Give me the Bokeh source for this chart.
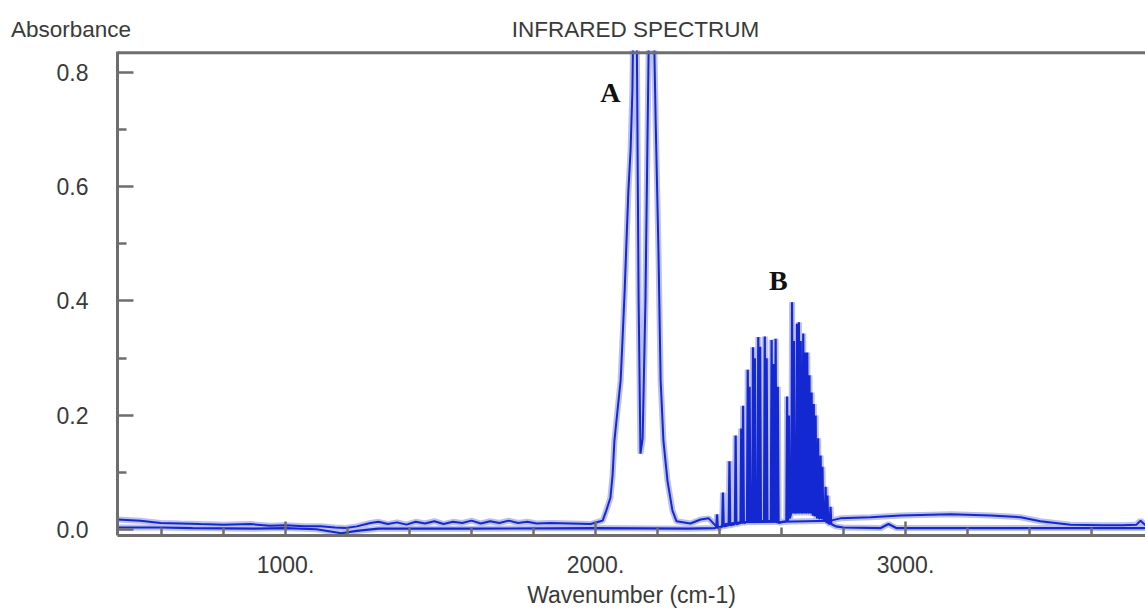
from bokeh.plotting import figure
from bokeh.models import Range1d, FixedTicker, LinearAxis, Label, NumeralTickFormatter, Span
from bokeh.embed import file_html
from bokeh.resources import INLINE

# ---------------- data ----------------
# Spectrum 1 (band A, CO-like doublet) : wavenumber (cm-1), absorbance
spec_a_wn = [458, 532, 597, 660, 726, 800, 887, 950, 1000, 1060, 1113, 1160, 1194, 1230,
             1274, 1300, 1330, 1360, 1390, 1420, 1450, 1480, 1510, 1540, 1570, 1600,
             1630, 1660, 1690, 1720, 1750, 1780, 1810, 1855, 1920, 1984, 2016,
             2023, 2035, 2048, 2055, 2061, 2071, 2081, 2087, 2094, 2100, 2106, 2113,
             2119, 2123, 2132, 2139, 2145, 2152, 2161, 2168, 2174, 2186, 2194, 2203,
             2210, 2219, 2232, 2248, 2261, 2306, 2339, 2365, 2384, 2397, 2420, 2468,
             2600, 2758, 2790, 2887, 2984, 3145, 3274, 3371, 3435, 3532, 3629, 3700,
             3745, 3758, 3774]
spec_a_abs = [0.018, 0.016, 0.012, 0.011, 0.010, 0.009, 0.010, 0.007, 0.008, 0.006, 0.006,
              0.004, 0.003, 0.006, 0.012, 0.014, 0.010, 0.013, 0.009, 0.014, 0.011, 0.015,
              0.010, 0.014, 0.012, 0.016, 0.011, 0.015, 0.012, 0.016, 0.012, 0.014, 0.011,
              0.012, 0.011, 0.010, 0.015,
              0.016, 0.034, 0.056, 0.095, 0.156, 0.209, 0.261, 0.331, 0.418, 0.506, 0.593,
              0.663, 0.768, 0.95, 0.95, 0.401, 0.133, 0.160, 0.400, 0.700, 0.95, 0.95,
              0.715, 0.488, 0.261, 0.156, 0.086, 0.034, 0.015, 0.011, 0.018, 0.020, 0.009,
              0.002, 0.010, 0.013, 0.014, 0.016, 0.020, 0.022, 0.025, 0.027, 0.025, 0.022,
              0.015, 0.009, 0.008, 0.008, 0.009, 0.016, 0.008]

# Spectrum 2 (band B, rotational lines) : baseline pieces and lines
spec_b_left_wn = [458, 600, 700, 900, 1000, 1100, 1180, 1230, 1300, 1600, 2000, 2300, 2385]
spec_b_left_abs = [0.004, 0.004, 0.003, 0.002, 0.003, 0.001, -0.006, -0.002, 0.002,
                   0.002, 0.003, 0.002, 0.003]
b_line_wn = [2392, 2411, 2432, 2452, 2470, 2476, 2491, 2497, 2508, 2514, 2525, 2531,
             2546, 2552, 2568, 2574, 2581, 2588, 2618, 2624, 2634, 2640, 2650, 2656,
             2662, 2670, 2676, 2683, 2690, 2697, 2704, 2710, 2718, 2726, 2732, 2742,
             2748, 2758]
b_line_abs = [0.027, 0.065, 0.120, 0.165, 0.177, 0.217, 0.280, 0.250, 0.319, 0.300,
              0.337, 0.320, 0.338, 0.300, 0.332, 0.290, 0.334, 0.250, 0.233, 0.200,
              0.398, 0.330, 0.360, 0.363, 0.330, 0.343, 0.310, 0.310, 0.270, 0.240,
              0.220, 0.200, 0.160, 0.130, 0.110, 0.075, 0.060, 0.040]
b_valley_abs = [0.004, 0.006, 0.008, 0.010, 0.012, 0.012, 0.014, 0.014, 0.015, 0.015,
                0.015, 0.015, 0.015, 0.015, 0.015, 0.015, 0.015, 0.012, 0.015, 0.020,
                0.030, 0.030, 0.030, 0.030, 0.030, 0.030, 0.030, 0.030, 0.030, 0.030,
                0.025, 0.025, 0.020, 0.020, 0.020, 0.015, 0.012, 0.010]
spec_b_right_wn = [2775, 2800, 2920, 2945, 2970, 3300, 3500, 3774]
spec_b_right_abs = [0.006, 0.004, 0.003, 0.010, 0.003, 0.003, 0.003, 0.003]

x_major = [1000, 2000, 3000]
x_major_labels = ["1000.", "2000.", "3000."]
x_minor = [600, 800, 1200, 1400, 1600, 1800, 2200, 2400, 2600, 2800, 3200, 3400, 3600]
y_major = [0.0, 0.2, 0.4, 0.6, 0.8]
y_minor = [0.1, 0.3, 0.5, 0.7]
y_top = 0.834

title_text = "INFRARED SPECTRUM"
y_title_text = "Absorbance"
x_title_text = "Wavenumber (cm-1)"

# build spectrum 2 polyline from baseline and line list
spec_b_wn = list(spec_b_left_wn)
spec_b_abs = list(spec_b_left_abs)
for c, h, v in zip(b_line_wn, b_line_abs, b_valley_abs):
    spec_b_wn += [c - 2.5, c, c + 2.5]
    spec_b_abs += [v, h, v]
spec_b_wn += spec_b_right_wn
spec_b_abs += spec_b_right_abs

# ---------------- figure ----------------
FONT = "Liberation Sans"
TXT = "#3a3a3a"
AX = "#6e6e6e"
FS = "23px"
X0, X1 = 458.1, 3774.0

p = figure(width=1145, height=613, output_backend="svg", toolbar_location=None,
           x_range=Range1d(X0, X1), y_range=Range1d(-0.00997, 0.8379),
           min_border_left=117, min_border_right=0, min_border_top=50, min_border_bottom=78)
p.outline_line_color = None
p.grid.visible = False
p.background_fill_color = "white"

halo = "#bcc0ea"
blue = "#1428d2"
p.line(spec_a_wn, spec_a_abs, line_color=halo, line_width=6)
p.line(spec_b_wn, spec_b_abs, line_color=halo, line_width=6)
p.line(spec_a_wn, spec_a_abs, line_color=blue, line_width=2)
p.line(spec_b_wn, spec_b_abs, line_color=blue, line_width=2.2)

# top border of the plot box
p.add_layout(Span(location=y_top, dimension="width", line_color=AX, line_width=3))

xa = p.xaxis[0]
xa.ticker = FixedTicker(ticks=x_major, minor_ticks=x_minor)
xa.major_label_overrides = {t: l for t, l in zip(x_major, x_major_labels)}
xa.axis_label = x_title_text
xa.axis_label_text_font = FONT
xa.axis_label_text_font_size = FS
xa.axis_label_text_font_style = "normal"
xa.axis_label_text_color = TXT
xa.axis_label_standoff = 6
ya = p.yaxis[0]
ya.ticker = FixedTicker(ticks=y_major, minor_ticks=y_minor)
ya.formatter = NumeralTickFormatter(format="0.0")
ya.bounds = (-0.0105, 0.836)

for ax, tin, tmin in ((xa, 14, 8), (ya, 16, 9)):
    ax.axis_line_color = AX
    ax.axis_line_width = 3
    ax.major_tick_line_color = AX
    ax.major_tick_line_width = 2.5
    ax.minor_tick_line_color = AX
    ax.minor_tick_line_width = 2.5
    ax.major_tick_in = tin
    ax.major_tick_out = 0
    ax.minor_tick_in = tmin
    ax.minor_tick_out = 0
    ax.major_label_text_font = FONT
    ax.major_label_text_font_size = FS
    ax.major_label_text_color = TXT
xa.major_label_standoff = 20
ya.major_label_standoff = 29

# header line: "Absorbance" at the left and the title in the middle, drawn as the
# labels of a top axis (the y title is centred on the frame's left edge, padded on its right)
NBSP = "\u00a0"
x_abs_pos = X0 + 1.0
x_title_pos = 2129.0
top = LinearAxis(ticker=FixedTicker(ticks=[x_abs_pos, x_title_pos]),
                 axis_line_color=None, major_tick_line_color=None, minor_tick_line_color=None,
                 major_tick_in=0, major_tick_out=0, minor_tick_in=0, minor_tick_out=0,
                 major_label_overrides={x_abs_pos: y_title_text + NBSP * 15,
                                        x_title_pos: title_text},
                 major_label_standoff=9, major_label_text_font=FONT,
                 major_label_text_font_size="22.5px", major_label_text_color=TXT)
p.add_layout(top, "above")

p.add_layout(Label(x=2048, y=0.765, text="A", text_font="Liberation Serif",
                   text_font_style="bold", text_font_size="28px", text_color="#111111",
                   text_align="center", text_baseline="middle"))
p.add_layout(Label(x=2590, y=0.436, text="B", text_font="Liberation Serif",
                   text_font_style="bold", text_font_size="28px", text_color="#111111",
                   text_align="center", text_baseline="middle"))

open("out.html", "w").write(file_html(p, INLINE))
